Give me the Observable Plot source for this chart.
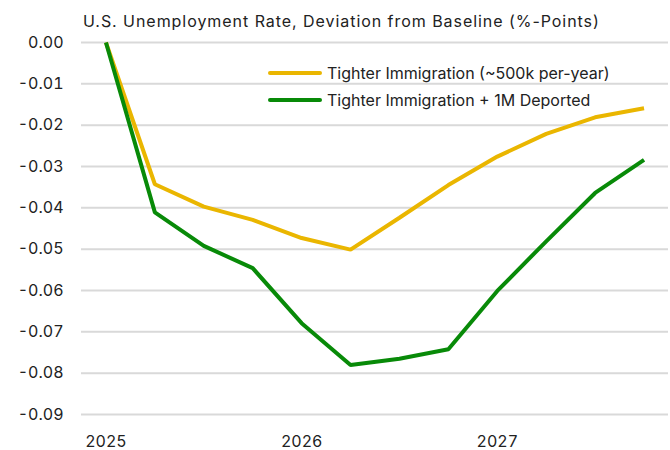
<!DOCTYPE html>
<html>
<head>
<meta charset="utf-8">
<script src="https://cdn.jsdelivr.net/npm/d3@7"></script>
<script src="https://cdn.jsdelivr.net/npm/@observablehq/plot@0.6"></script>
<style>
  html, body { margin: 0; padding: 0; background: #fff; }
  #wrap { position: relative; width: 670px; height: 450px; font-family: Inter, "Noto Sans", sans-serif; color: #222; }
  #title { height: 30px; box-sizing: border-box; padding-top: 13px; padding-left: 83px; font-size: 16px; line-height: 1; letter-spacing: 0.95px; white-space: nowrap; }
  #legend { position: absolute; left: 268px; top: 60px; font-size: 16px; }
  .item { display: flex; align-items: center; height: 26.6px; }
  .swatch { width: 54px; height: 4px; border-radius: 2px; margin-right: 5px; }
</style>
</head>
<body>
<div id="wrap">
  <div id="title">U.S. Unemployment Rate, Deviation from Baseline (%-Points)</div>
  <div id="chart"></div>
  <div id="legend"></div>
</div>
<script>
const quarters = ["2025 Q1","2025 Q2","2025 Q3","2025 Q4","2026 Q1","2026 Q2","2026 Q3","2026 Q4","2027 Q1","2027 Q2","2027 Q3","2027 Q4"];
const tighterImmigration = [0, -0.0343, -0.0397, -0.0429, -0.0473, -0.0501, -0.0424, -0.0345, -0.0276, -0.0221, -0.0181, -0.0159];
const deported = [0, -0.0411, -0.0492, -0.0546, -0.0679, -0.0780, -0.0765, -0.0742, -0.0601, -0.0481, -0.0364, -0.0284];
const seriesNames = ["Tighter Immigration (~500k per-year)", "Tighter Immigration + 1M Deported"];
const seriesColors = ["#EAB600", "#088A08"];
const yTicks = [0, -0.01, -0.02, -0.03, -0.04, -0.05, -0.06, -0.07, -0.08, -0.09];
const xTicks = [2025, 2026, 2027];

const toYear = q => { const [y, qq] = q.split(" Q"); return +y + (+qq - 1) / 4; };
const rows = [];
[tighterImmigration, deported].forEach((vals, i) => {
  vals.forEach((v, j) => rows.push({series: seriesNames[i], t: toYear(quarters[j]), v}));
});

const chart = Plot.plot({
  width: 670,
  height: 420,
  marginTop: 12,
  marginBottom: 36,
  marginLeft: 81,
  marginRight: 2,
  style: {fontFamily: "Inter, 'Noto Sans', sans-serif", fontSize: "16px", color: "#222", background: "#fff"},
  x: {domain: [2024.875, 2027.875], ticks: xTicks, tickFormat: d => String(d), tickSize: 0, tickPadding: 21, label: null},
  y: {domain: [-0.09, 0], ticks: yTicks, tickFormat: d => d3.format(".2f")(d).replace("−", "-"), tickSize: 0, tickPadding: 18, label: null},
  color: {domain: seriesNames, range: seriesColors},
  marks: [
    Plot.gridY(yTicks, {stroke: "#d9d9d9", strokeOpacity: 1, strokeWidth: 2}),
    Plot.axisY({ticks: yTicks, tickSize: 0, tickPadding: 18, tickFormat: d => d3.format(".2f")(d).replace("−", "-"), label: null}),
    Plot.axisX({ticks: xTicks, tickSize: 0, tickPadding: 21, tickFormat: d => String(d), label: null}),
    Plot.line(rows, {x: "t", y: "v", z: "series", stroke: "series", strokeWidth: 4, strokeLinejoin: "miter", strokeLinecap: "butt"})
  ]
});
document.getElementById("chart").appendChild(chart);

const legend = document.getElementById("legend");
seriesNames.forEach((name, i) => {
  const item = document.createElement("div");
  item.className = "item";
  const sw = document.createElement("span");
  sw.className = "swatch";
  sw.style.background = seriesColors[i];
  const label = document.createElement("span");
  label.textContent = name;
  item.appendChild(sw);
  item.appendChild(label);
  legend.appendChild(item);
});
</script>
</body>
</html>
